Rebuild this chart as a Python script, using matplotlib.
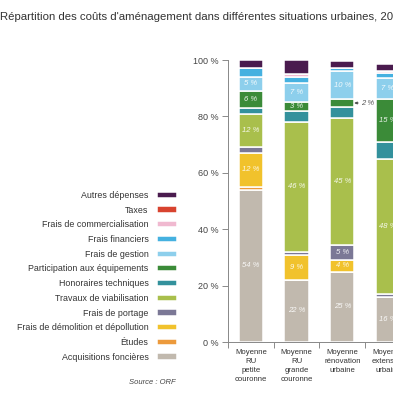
import matplotlib
matplotlib.use('Agg')
import matplotlib.pyplot as plt
import numpy as np

plt.rcParams['font.family'] = ['Liberation Sans', 'DejaVu Sans']

# categories (4th column is cut by the image edge in the source)
categories = ['Moyenne\nRU\npetite\ncouronne',
              'Moyenne\nRU\ngrande\ncouronne',
              'Moyenne\nrénovation\nurbaine',
              'Moyenne\nextension\nurbaine']

# cost shares in %, stacked from bottom to top
acquisitions = [54, 22, 25, 16]
etudes = [1, 0, 0, 0]
demolition = [12, 9, 4, 0]
portage = [2, 1, 5.5, 1]
travaux = [12, 46, 45, 48]
honoraires = [2, 4, 4, 6]
participation = [6, 3, 2.5, 15]
gestion = [5, 7, 10, 7.5]
financiers = [3, 2, 1, 2]
commercialisation = [0, 1, 0, 0.5]
taxes = [0, 0, 0, 0]
autres = [3, 5, 2.5, 2.5]

series_names = ['Acquisitions foncières', 'Études',
                'Frais de démolition et dépollution', 'Frais de portage',
                'Travaux de viabilisation', 'Honoraires techniques',
                'Participation aux équipements', 'Frais de gestion',
                'Frais financiers', 'Frais de commercialisation',
                'Taxes', 'Autres dépenses']
series_values = [acquisitions, etudes, demolition, portage, travaux,
                 honoraires, participation, gestion, financiers,
                 commercialisation, taxes, autres]
colors = ['#c1b9ae', '#ec9a3c', '#f1c22c', '#7b7896', '#a9bf4c', '#33919c',
          '#3b8b38', '#8dcfec', '#45b1e0', '#f0b9d0', '#d8432f', '#4a1b4e']

# labels written inside the bars (None = no label)
value_labels = {
    'Acquisitions foncières': ['54 %', '22 %', '25 %', '16 %'],
    'Frais de démolition et dépollution': ['12 %', '9 %', '4 %', None],
    'Frais de portage': [None, None, '5 %', None],
    'Travaux de viabilisation': ['12 %', '46 %', '45 %', '48 %'],
    'Participation aux équipements': ['6 %', '3 %', None, '15 %'],
    'Frais de gestion': ['5 %', '7 %', '10 %', '7 %'],
}
# label written outside, with a small arrow
outside_label = ('Participation aux équipements', 2, '2 %')

fig = plt.figure(figsize=(3.93, 3.93), dpi=100)
ax = fig.add_axes([228 / 393, 51 / 393, 4 * 45.7 / 393, 282 / 393])

x = np.arange(len(categories))
bw = 0.53
bottom = np.zeros(len(categories))
bars = []
for name, vals, col in zip(series_names, series_values, colors):
    vals = np.array(vals, dtype=float)
    b = ax.bar(x, vals, bw, bottom=bottom, color=col, edgecolor='white',
               linewidth=1.1, label=name)
    bars.append(b)
    labs = value_labels.get(name)
    if labs:
        for i, t in enumerate(labs):
            if t:
                ax.text(x[i], bottom[i] + vals[i] / 2, t, ha='center',
                        va='center', fontsize=5.5, style='italic',
                        color='white', alpha=0.9)
    if name == outside_label[0]:
        i = outside_label[1]
        ax.annotate(outside_label[2], xy=(x[i] + bw / 2, bottom[i] + vals[i] / 2),
                    xytext=(5, 0), textcoords='offset points', va='center',
                    ha='left', fontsize=5.5, style='italic', color='#555555',
                    arrowprops=dict(arrowstyle='-|>', color='#444444', lw=0.5,
                                    mutation_scale=4, shrinkA=0, shrinkB=0))
    bottom += vals

ax.set_xlim(-0.5, 3.5)
ax.set_ylim(0, 100)
ax.set_yticks(range(0, 101, 20))
ax.set_yticklabels([f'{v} %' for v in range(0, 101, 20)])
ax.set_xticks(x)
ax.set_xticklabels(categories, fontsize=5.6, color='#333333', linespacing=1.4)
ax.set_xticks(np.arange(-0.5, 4, 1), minor=True)
ax.tick_params(axis='x', which='major', length=0, pad=5)
ax.tick_params(axis='x', which='minor', length=4, width=0.6, color='#777777')
ax.tick_params(axis='y', length=4, width=0.6, color='#777777', labelsize=6.5,
               labelcolor='#444444', pad=3)
for s in ['top', 'right']:
    ax.spines[s].set_visible(False)
for s in ['left', 'bottom']:
    ax.spines[s].set_color('#888888')
    ax.spines[s].set_linewidth(0.7)

# legend on the left, labels right-aligned, top entry = top of stack
handles = bars[::-1]
labels = series_names[::-1]
fig.legend(handles, labels, loc='upper right', markerfirst=False,
           bbox_to_anchor=(177 / 393, 1 - 191 / 393), frameon=False,
           fontsize=6.4, labelspacing=0.64, handlelength=2.3,
           handleheight=0.7, handletextpad=0.9, borderpad=0, borderaxespad=0,
           labelcolor='#333333')

fig.text(176 / 393, 1 - 383 / 393, 'Source : ORF', ha='right', va='center',
         fontsize=5.5, style='italic', color='#444444')

fig.text(0, 1 - 17 / 393,
         "Répartition des coûts d'aménagement dans différentes situations urbaines, 2010",
         ha='left', va='center', fontsize=8.2, color='#333333')

fig.savefig('out.png', dpi=100, facecolor='white')
